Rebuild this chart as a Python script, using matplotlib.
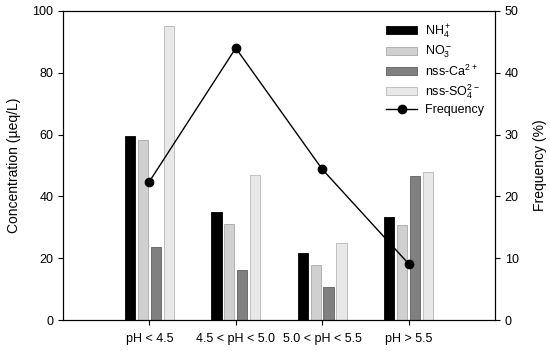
import matplotlib
matplotlib.use('Agg')
import matplotlib.pyplot as plt
import numpy as np

matplotlib.rcParams['font.family'] = 'Liberation Sans'
matplotlib.rcParams['mathtext.fontset'] = 'custom'
matplotlib.rcParams['mathtext.rm'] = 'Liberation Sans'

groups = ['pH < 4.5', '4.5 < pH < 5.0', '5.0 < pH < 5.5', 'pH > 5.5']
nh4 = [59.5, 34.8, 21.8, 33.3]
no3 = [58.2, 31.0, 17.8, 30.6]
ca = [23.5, 16.3, 10.8, 46.5]
so4 = [95.2, 47.0, 25.0, 48.0]
freq = [22.4, 44.0, 24.4, 9.1]

labels = ['NH$_4^+$', 'NO$_3^-$', 'nss-Ca$^{2+}$', 'nss-SO$_4^{2-}$']
colors = ['#000000', '#d0d0d0', '#808080', '#e8e8e8']
edges = ['#000000', '#a8a8a8', '#606060', '#b8b8b8']

x = np.arange(1, len(groups) + 1)
w = 0.12
step = 0.15

fig = plt.figure(figsize=(5.5, 3.51), dpi=100)
ax = fig.add_axes([0.1145, 0.0883, 0.7855, 0.8804])
handles = []
for i, vals in enumerate([nh4, no3, ca, so4]):
    b = ax.bar(x + (i - 1.5) * step, vals, w, color=colors[i],
               edgecolor=edges[i], linewidth=0.6, label=labels[i])
    handles.append(b)
ax.set_xlim(0, 5)
ax.set_ylim(0, 100)
ax.set_xticks(x)
ax.set_xticklabels(groups, fontsize=9)
ax.set_yticks(range(0, 101, 20))
ax.tick_params(labelsize=9)
ax.tick_params(axis='x', pad=6)
ax.set_ylabel('Concentration (µeq/L)', fontsize=10, labelpad=8)

ax2 = ax.twinx()
ln, = ax2.plot(x, freq, '-o', color='black', linewidth=1, markersize=6,
               label='Frequency')
ax2.set_ylim(0, 50)
ax2.set_yticks(range(0, 51, 10))
ax2.tick_params(labelsize=9)
ax2.set_ylabel('Frequency (%)', fontsize=10, labelpad=10)

ax2.legend(handles + [ln], labels + ['Frequency'], loc='upper right',
           frameon=False, fontsize=9, handlelength=2.5, handleheight=0.6,
           labelspacing=0.25, handletextpad=0.6,
           bbox_to_anchor=(1.0, 1.0))

fig.savefig('out.png', dpi=100)
